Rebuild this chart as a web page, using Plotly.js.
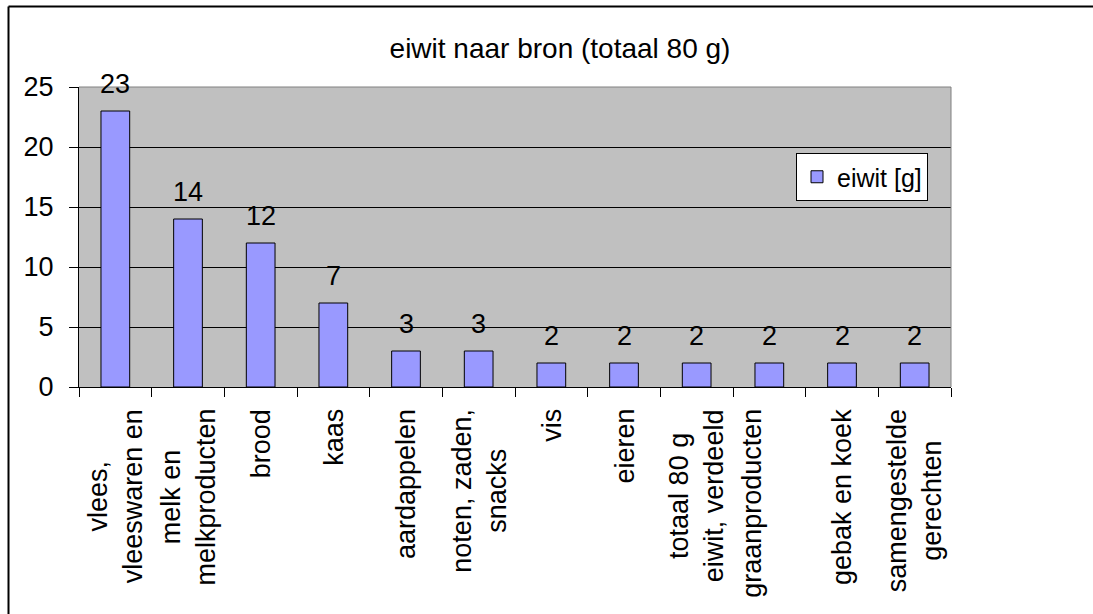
<!DOCTYPE html>
<html>
<head>
<meta charset="utf-8">
<script src="https://cdn.plot.ly/plotly-3.0.1.min.js"></script>
<style>
  html, body { margin: 0; padding: 0; background: #ffffff; }
  #chart { width: 1093px; height: 614px; }
</style>
</head>
<body>
<div id="chart"></div>
<script>
// ---- data ----
const categories = ["vlees", "melk", "brood", "kaas", "aardappelen", "noten", "vis", "eieren", "totaal", "graanproducten", "gebak", "samengestelde"];
const categoryLabels = [
  "vlees,<br>vleeswaren en",
  "melk en<br>melkproducten",
  "brood",
  "kaas",
  "aardappelen",
  "noten, zaden,<br>snacks",
  "vis",
  "eieren",
  "totaal 80 g<br>eiwit, verdeeld",
  "graanproducten<br>&nbsp;",
  "gebak en koek",
  "samengestelde<br>gerechten"
];
const eiwit = [23, 14, 12, 7, 3, 3, 2, 2, 2, 2, 2, 2];
const seriesName = "eiwit [g]";
const chartTitle = "eiwit naar bron (totaal 80 g)";
const yTicks = [0, 5, 10, 15, 20, 25];

// ---- layout constants (pixels) ----
const W = 1093, H = 614;
const L = 79, R = 951, T = 87, B = 387;
const pw = R - L, ph = B - T;
const px = x => (x - L) / pw;
const py = y => (B - y) / ph;
const FONT = "Liberation Sans, Arial, sans-serif";

const annotations = [];
categories.forEach((c, i) => {
  annotations.push({
    xref: "x", yref: "paper", x: c, y: py(407),
    text: categoryLabels[i], textangle: -90, showarrow: false,
    xanchor: "center", yanchor: "top", align: "center",
    font: {family: FONT, size: 27, color: "#000"}
  });
  annotations.push({
    xref: "x", yref: "y", x: c, y: eiwit[i],
    text: String(eiwit[i]), showarrow: false,
    xanchor: "center", yanchor: "bottom", yshift: 10,
    font: {family: FONT, size: 27, color: "#000"}
  });
});

const trace = {
  type: "bar",
  x: categories,
  y: eiwit,
  name: seriesName,
  marker: {color: "#9999FF", line: {color: "#000000", width: 1}},
  showlegend: true,
  hoverinfo: "x+y"
};

const layout = {
  width: W, height: H,
  margin: {l: L, r: W - R, t: T, b: H - B, pad: 0},
  paper_bgcolor: "#ffffff",
  plot_bgcolor: "#C0C0C0",
  font: {family: FONT, color: "#000", size: 22},
  title: {
    text: chartTitle,
    font: {family: FONT, size: 28, color: "#000"},
    x: 560 / W, xanchor: "center", xref: "container",
    y: 1 - 48 / H, yanchor: "middle", yref: "container"
  },
  bargap: 0.605,
  showlegend: true,
  legend: {
    x: px(796), y: py(153), xanchor: "left", yanchor: "top",
    bgcolor: "#ffffff", bordercolor: "#000000", borderwidth: 1,
    font: {family: FONT, size: 25, color: "#000"},
    itemwidth: 30, tracegroupgap: 0
  },
  xaxis: {
    type: "category",
    showticklabels: false,
    ticks: "outside", ticklen: 9, tickcolor: "#000", tickwidth: 1,
    tickson: "boundaries",
    showline: true, linecolor: "#000", linewidth: 1,
    showgrid: false, zeroline: false, fixedrange: true
  },
  yaxis: {
    range: [0, 25],
    tickvals: yTicks,
    ticktext: yTicks.map(String),
    ticks: "outside", ticklen: 9, tickcolor: "#000", tickwidth: 1,
    ticklabelstandoff: 10,
    tickfont: {family: FONT, size: 27, color: "#000"},
    showline: true, linecolor: "#000", linewidth: 1,
    showgrid: true, gridcolor: "#000", gridwidth: 1,
    zeroline: false, fixedrange: true
  },
  shapes: [
    {type: "line", xref: "paper", yref: "paper", x0: 0, x1: 1, y0: 1, y1: 1, line: {color: "#808080", width: 1}, layer: "above"},
    {type: "line", xref: "paper", yref: "paper", x0: 1, x1: 1, y0: 0, y1: 1, line: {color: "#808080", width: 1}, layer: "above"},
    {type: "line", xref: "paper", yref: "paper", x0: px(8.5), x1: px(1093), y0: py(6.5), y1: py(6.5), line: {color: "#000", width: 2}, layer: "above"},
    {type: "line", xref: "paper", yref: "paper", x0: px(8.5), x1: px(8.5), y0: py(6.5), y1: py(614), line: {color: "#000", width: 2}, layer: "above"}
  ],
  annotations: annotations
};

Plotly.newPlot("chart", [trace], layout, {displayModeBar: false, staticPlot: true});
</script>
</body>
</html>
